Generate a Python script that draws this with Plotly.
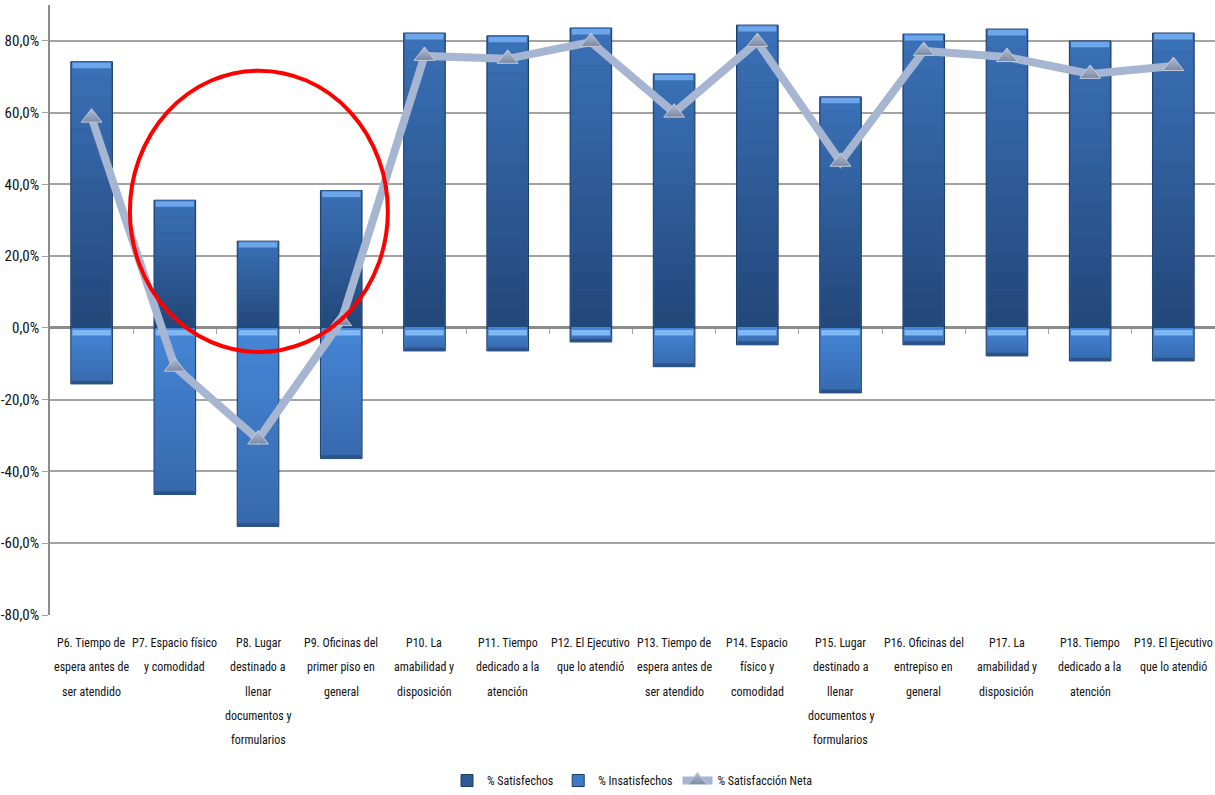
import plotly.graph_objects as go

# Survey items (x categories), one list of text lines per item
labels = [
    ["P6. Tiempo de", "espera antes de", "ser atendido"],
    ["P7. Espacio físico", "y comodidad"],
    ["P8. Lugar", "destinado a", "llenar", "documentos y", "formularios"],
    ["P9. Oficinas del", "primer piso en", "general"],
    ["P10. La", "amabilidad y", "disposición"],
    ["P11. Tiempo", "dedicado a la", "atención"],
    ["P12. El Ejecutivo", "que lo atendió"],
    ["P13. Tiempo de", "espera antes de", "ser atendido"],
    ["P14. Espacio", "físico y", "comodidad"],
    ["P15. Lugar", "destinado a", "llenar", "documentos y", "formularios"],
    ["P16. Oficinas del", "entrepiso en", "general"],
    ["P17. La", "amabilidad y", "disposición"],
    ["P18. Tiempo", "dedicado a la", "atención"],
    ["P19. El Ejecutivo", "que lo atendió"],
]

satisfechos = [74.2, 35.6, 24.2, 38.3, 82.2, 81.4, 83.6, 70.8, 84.4, 64.4, 81.9, 83.3, 80.0, 82.2]
insatisfechos = [-15.6, -46.4, -55.3, -36.4, -6.4, -6.4, -3.9, -10.8, -4.7, -18.1, -4.7, -7.8, -9.2, -9.2]
neta = [58.6, -10.8, -31.1, 1.9, 75.8, 75.0, 79.7, 60.0, 79.7, 46.3, 77.2, 75.5, 70.8, 73.0]

y_ticks = [-80, -60, -40, -20, 0, 20, 40, 60, 80]
y_ticktext = ["-80,0%", "-60,0%", "-40,0%", "-20,0%", "0,0%", "20,0%", "40,0%", "60,0%", "80,0%"]

FONT = "Roboto Condensed, Roboto, sans-serif"
x = list(range(len(labels)))
cap = 1.5      # thickness of the light top band on each bar, in % units
N_STEPS = 16   # vertical shading steps per bar
BAR_W = 0.5
INNER_W = BAR_W * 0.95

EDGE = "#1d3c66"


def mix(c1, c2, t):
    a = [int(c1[i:i + 2], 16) for i in (1, 3, 5)]
    b = [int(c2[i:i + 2], 16) for i in (1, 3, 5)]
    return "#" + "".join(f"{round(p + (q - p) * t):02x}" for p, q in zip(a, b))


fig = go.Figure()

# legend-carrying base bars
fig.add_trace(go.Bar(
    x=x, y=satisfechos, name="% Satisfechos", width=BAR_W,
    marker=dict(color="#2c5b97", line=dict(color=EDGE, width=1)),
))
fig.add_trace(go.Bar(
    x=x, y=insatisfechos, name="% Insatisfechos", width=BAR_W,
    marker=dict(color="#3d7bc9", line=dict(color=EDGE, width=1)),
))

# vertical shading: satisfied bars go from dark (at zero) to lighter (top)
for k in range(N_STEPS):
    t = k / (N_STEPS - 1)
    fig.add_trace(go.Bar(
        x=x, y=[v / N_STEPS for v in satisfechos],
        base=[v * k / N_STEPS for v in satisfechos], width=INNER_W,
        marker=dict(color=mix("#23487a", "#3a70b6", t), line=dict(width=0)),
        showlegend=False, hoverinfo="skip",
    ))
# unsatisfied bars: lighter just under zero, a bit darker further down
for k in range(N_STEPS):
    t = k / (N_STEPS - 1)
    fig.add_trace(go.Bar(
        x=x, y=[v / N_STEPS for v in insatisfechos],
        base=[v * k / N_STEPS for v in insatisfechos], width=INNER_W,
        marker=dict(color=mix("#4586d6", "#3769ad", t), line=dict(width=0)),
        showlegend=False, hoverinfo="skip",
    ))
# darker bottom rim of the unsatisfied bars
fig.add_trace(go.Bar(
    x=x, y=[0.9] * len(x), base=[v for v in insatisfechos], width=INNER_W,
    marker=dict(color="#2a5288", line=dict(width=0)),
    showlegend=False, hoverinfo="skip",
))
# light bevel bands at the top edge of each bar
fig.add_trace(go.Bar(
    x=x, y=[cap] * len(x), base=[v - cap - 0.3 for v in satisfechos],
    width=INNER_W * 0.97, marker=dict(color="#6ea6ec", line=dict(width=0)),
    showlegend=False, hoverinfo="skip",
))
fig.add_trace(go.Bar(
    x=x, y=[cap] * len(x), base=[-cap - 0.6] * len(x),
    width=INNER_W * 0.97, marker=dict(color="#80b8f5", line=dict(width=0)),
    showlegend=False, hoverinfo="skip",
))

fig.add_trace(go.Scatter(
    x=x, y=neta, name="% Satisfacción Neta", mode="lines+markers",
    line=dict(color="#a5b5d2", width=8),
    marker=dict(symbol="triangle-up", size=18, color="#b3bfd6",
                gradient=dict(type="vertical", color="#7c89a3"),
                line=dict(color="#c0c9da", width=1)),
))

# category labels below the plot, one annotation per line
for i, lines in enumerate(labels):
    for j, txt in enumerate(lines):
        fig.add_annotation(
            x=i, xref="x", y=0, yref="paper", text=txt, showarrow=False,
            yanchor="middle", xanchor="center", yshift=-28 - 24.3 * j,
            font=dict(family=FONT, size=12, color="#111111"),
        )

# highlight circle around P7-P9
fig.add_shape(
    type="circle", xref="x", yref="y", x0=0.46, x1=3.56, y0=-6.7, y1=71.7,
    line=dict(color="#ff0000", width=4), layer="above",
)

fig.update_layout(
    width=1215, height=795,
    margin=dict(l=50, r=0, t=5, b=178),
    paper_bgcolor="white", plot_bgcolor="white",
    barmode="overlay", bargap=0.5,
    font=dict(family=FONT, size=13, color="#111111"),
    showlegend=True,
    legend=dict(orientation="h", x=0.5, xanchor="center", y=-0.272, yanchor="middle",
                font=dict(family=FONT, size=12, color="#111111"), itemwidth=30),
)
fig.update_xaxes(
    range=[-0.5, len(x) - 0.5], showticklabels=False, showgrid=False,
    zeroline=False, showline=False, ticks="",
)
fig.update_yaxes(
    range=[-80, 90], tickvals=y_ticks, ticktext=y_ticktext,
    showgrid=True, gridcolor="#a3a3a3", gridwidth=2,
    zeroline=True, zerolinecolor="#8c8c8c", zerolinewidth=3,
    showline=True, linecolor="#8c8c8c", linewidth=1.5,
    ticks="outside", ticklen=6, tickcolor="#a3a3a3",
    tickfont=dict(family=FONT, size=15, color="#111111"),
)

# small tick marks on the zero line between categories
fig.update_layout(xaxis2=dict(
    overlaying="x", range=[-0.5, len(x) - 0.5], anchor="free", position=80 / 170,
    side="bottom", tickvals=[i + 0.5 for i in x[:-1]], ticks="outside", ticklen=5,
    tickcolor="#a3a3a3", tickwidth=1, showticklabels=False, showgrid=False,
    showline=False, zeroline=False,
))
fig.add_trace(go.Scatter(x=[x[0]], y=[0], xaxis="x2", mode="markers",
                         marker=dict(opacity=0), showlegend=False, hoverinfo="skip"))

fig.write_html("out.html")
